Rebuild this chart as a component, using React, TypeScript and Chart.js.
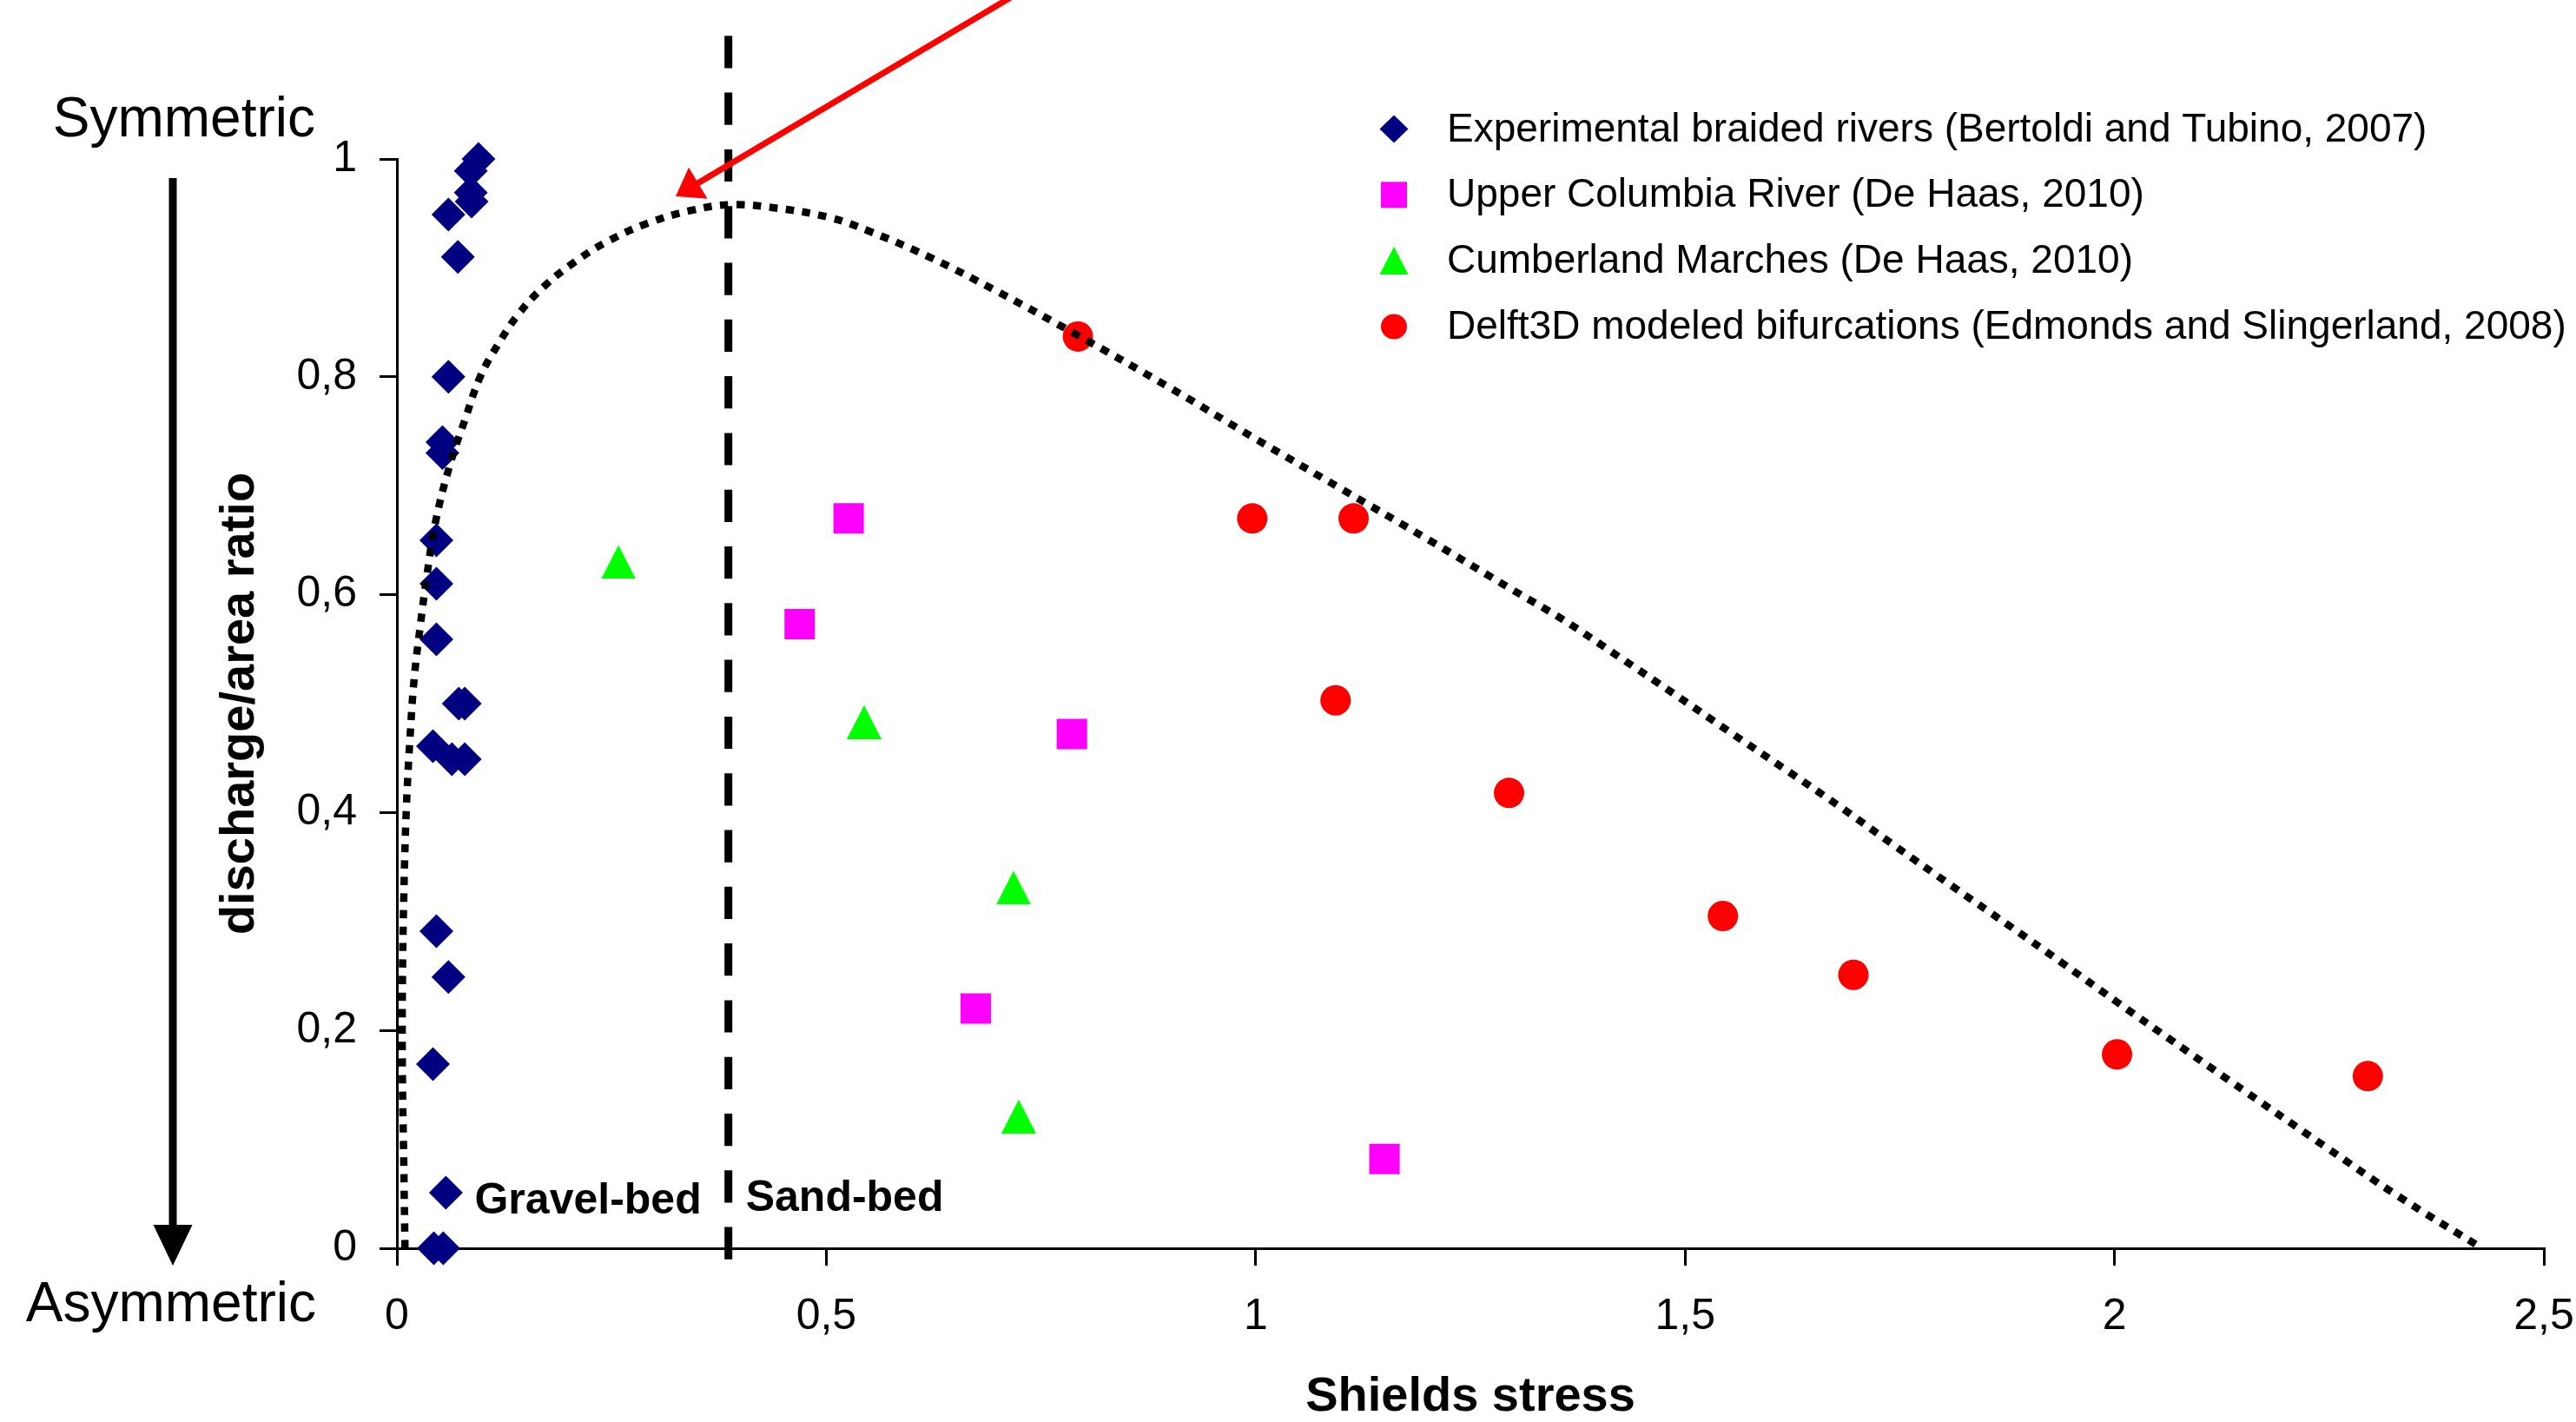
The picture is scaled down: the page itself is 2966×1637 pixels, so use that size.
import React, { useEffect, useRef } from "react";
import { Chart, registerables } from "chart.js";

Chart.register(...registerables);

const FONT = "'Liberation Sans', Arial, Helvetica, sans-serif";

// ---- axes ----
const X_TICKS = [0, 0.5, 1, 1.5, 2, 2.5];
const Y_TICKS = [0, 0.2, 0.4, 0.6, 0.8, 1];
const X_TITLE = "Shields stress";
const Y_TITLE = "discharge/area ratio";
const END_LABELS = ["Symmetric", "Asymmetric"];
const REGION_LABELS = ["Gravel-bed", "Sand-bed"];

// ---- series ----
const SERIES_LABELS = [
  "Experimental braided rivers (Bertoldi and Tubino, 2007)",
  "Upper Columbia River (De Haas, 2010)",
  "Cumberland Marches (De Haas, 2010)",
  "Delft3D modeled bifurcations (Edmonds and Slingerland, 2008)",
];
const SERIES_COLORS = ["#000080", "#FF00FF", "#00FF00", "#FF0000"];

const BRAIDED_X = [0.095, 0.086, 0.086, 0.087, 0.06, 0.071, 0.06, 0.053, 0.053, 0.046, 0.046, 0.046, 0.072, 0.079, 0.042, 0.064, 0.079, 0.046, 0.06, 0.042, 0.057, 0.043, 0.054];
const BRAIDED_Y = [1.0, 0.989, 0.969, 0.961, 0.949, 0.91, 0.8, 0.74, 0.73, 0.65, 0.61, 0.559, 0.5, 0.5, 0.461, 0.449, 0.449, 0.291, 0.249, 0.169, 0.051, 0.0, 0.0];

const COLUMBIA_X = [0.526, 0.469, 0.786, 0.674, 1.15];
const COLUMBIA_Y = [0.67, 0.573, 0.472, 0.22, 0.082];

const CUMBERLAND_X = [0.258, 0.544, 0.718, 0.724];
const CUMBERLAND_Y = [0.63, 0.483, 0.331, 0.121];

const DELFT_X = [0.793, 0.996, 1.114, 1.093, 1.295, 1.544, 1.696, 2.003, 2.295];
const DELFT_Y = [0.837, 0.67, 0.67, 0.503, 0.418, 0.305, 0.251, 0.178, 0.158];

// dotted envelope curve
const ENVELOPE_X = [0.0094, 0.008, 0.0064, 0.0064, 0.008, 0.011, 0.015, 0.02, 0.027, 0.035, 0.045, 0.062, 0.079, 0.097, 0.118, 0.141, 0.17, 0.208, 0.247, 0.292, 0.344, 0.389, 0.441, 0.505, 0.549, 0.62, 0.7, 0.793, 0.9, 1.0, 1.1, 1.2, 1.3, 1.358, 1.423, 1.487, 1.552, 1.616, 1.681, 1.745, 1.81, 1.874, 1.939, 2.003, 2.068, 2.132, 2.246, 2.33, 2.428];
const ENVELOPE_Y = [0.0, 0.078, 0.16, 0.241, 0.322, 0.404, 0.465, 0.522, 0.57, 0.618, 0.667, 0.72, 0.76, 0.8, 0.83, 0.857, 0.882, 0.906, 0.925, 0.941, 0.953, 0.958, 0.955, 0.946, 0.934, 0.91, 0.878, 0.838, 0.79, 0.743, 0.697, 0.651, 0.604, 0.577, 0.543, 0.509, 0.474, 0.44, 0.405, 0.369, 0.333, 0.298, 0.262, 0.226, 0.19, 0.155, 0.093, 0.048, 0.0];

// gravel/sand threshold (dashed line) and red pointer arrow
const THRESHOLD_X = 0.386;
const THRESHOLD_Y = [1.113, -0.011];
const ARROW_X = [0.744, 0.3246];
const ARROW_Y = [1.162, 0.9657];

const zip = (xs: number[], ys: number[]) => xs.map((x, i) => ({ x, y: ys[i] }));
const fmt = (v: number) => String(Math.round(v * 10) / 10).replace(".", ",");

function makeTriangle(w: number, h: number, color: string) {
  const c = document.createElement("canvas");
  c.width = w;
  c.height = h;
  const g = c.getContext("2d")!;
  g.fillStyle = color;
  g.beginPath();
  g.moveTo(w / 2, 0);
  g.lineTo(w, h);
  g.lineTo(0, h);
  g.closePath();
  g.fill();
  return c;
}

function drawMarker(ctx: CanvasRenderingContext2D, kind: number, x: number, y: number) {
  ctx.fillStyle = SERIES_COLORS[kind];
  ctx.beginPath();
  if (kind === 0) {
    ctx.moveTo(x, y - 16);
    ctx.lineTo(x + 16.5, y);
    ctx.lineTo(x, y + 16);
    ctx.lineTo(x - 16.5, y);
  } else if (kind === 1) {
    ctx.rect(x - 15, y - 15, 30, 30);
  } else if (kind === 2) {
    ctx.moveTo(x, y - 16);
    ctx.lineTo(x + 16.5, y + 16);
    ctx.lineTo(x - 16.5, y + 16);
  } else {
    ctx.ellipse(x, y, 15, 14.5, 0, 0, Math.PI * 2);
  }
  ctx.closePath();
  ctx.fill();
}

const decorPlugin = {
  id: "decor",
  afterDraw(chart: any) {
    const { ctx, chartArea } = chart;
    const xs = chart.scales.x;
    const ys = chart.scales.y;
    ctx.save();

    // red arrow pointing at the envelope peak
    const x0 = xs.getPixelForValue(ARROW_X[0]);
    const y0 = ys.getPixelForValue(ARROW_Y[0]);
    const x1 = xs.getPixelForValue(ARROW_X[1]);
    const y1 = ys.getPixelForValue(ARROW_Y[1]);
    const len = Math.hypot(x1 - x0, y1 - y0);
    const ux = (x1 - x0) / len;
    const uy = (y1 - y0) / len;
    const headLen = 30;
    const headHalf = 21;
    const bx = x1 - ux * headLen;
    const by = y1 - uy * headLen;
    ctx.strokeStyle = "#FF0000";
    ctx.lineWidth = 7;
    ctx.beginPath();
    ctx.moveTo(x0, y0);
    ctx.lineTo(bx + ux * 3, by + uy * 3);
    ctx.stroke();
    ctx.fillStyle = "#FF0000";
    ctx.beginPath();
    ctx.moveTo(x1, y1);
    ctx.lineTo(bx - uy * headHalf, by + ux * headHalf);
    ctx.lineTo(bx + uy * headHalf, by - ux * headHalf);
    ctx.closePath();
    ctx.fill();

    // vertical black arrow: Symmetric -> Asymmetric
    const ax = chartArea.left - 258;
    const aTop = chartArea.top + 22;
    const aBase = chartArea.bottom - 27;
    const aTip = chartArea.bottom + 20;
    ctx.strokeStyle = "#000";
    ctx.lineWidth = 9;
    ctx.beginPath();
    ctx.moveTo(ax, aTop);
    ctx.lineTo(ax, aBase + 2);
    ctx.stroke();
    ctx.fillStyle = "#000";
    ctx.beginPath();
    ctx.moveTo(ax - 22.5, aBase);
    ctx.lineTo(ax + 22.5, aBase);
    ctx.lineTo(ax, aTip);
    ctx.closePath();
    ctx.fill();

    ctx.font = `64px ${FONT}`;
    ctx.textAlign = "right";
    ctx.textBaseline = "alphabetic";
    ctx.fillText(END_LABELS[0], chartArea.left - 94, chartArea.top - 26);
    ctx.fillText(END_LABELS[1], chartArea.left - 93, chartArea.bottom + 84);

    // region labels
    const tx = xs.getPixelForValue(THRESHOLD_X);
    const y0px = ys.getPixelForValue(0);
    ctx.font = `bold 50px ${FONT}`;
    ctx.textAlign = "right";
    ctx.fillText(REGION_LABELS[0], tx - 31, y0px - 40);
    ctx.textAlign = "left";
    ctx.fillText(REGION_LABELS[1], tx + 20, y0px - 43);

    // legend inside plot
    ctx.font = `46px ${FONT}`;
    ctx.textAlign = "left";
    ctx.fillStyle = "#000";
    const legX = 1605;
    const textX = 1666;
    const base0 = 162.5;
    const step = 75.8;
    SERIES_LABELS.forEach((lab, i) => {
      const by2 = base0 + i * step;
      drawMarker(ctx, i, legX, by2 - 14);
      ctx.fillStyle = "#000";
      ctx.fillText(lab, textX, by2);
    });

    ctx.restore();
  },
};

export default function App() {
  const ref = useRef<HTMLCanvasElement>(null);

  useEffect(() => {
    const canvas = ref.current!;
    Chart.defaults.font.family = FONT;
    Chart.defaults.color = "#000";
    const tri = makeTriangle(40, 39, SERIES_COLORS[2]);

    const scatterBase = {
      pointBorderWidth: 0,
      showLine: false,
      clip: false as any,
    };

    const chart = new Chart(canvas, {
      type: "scatter",
      data: {
        datasets: [
          {
            label: "envelope",
            data: zip(ENVELOPE_X, ENVELOPE_Y),
            showLine: true,
            borderColor: "#000",
            borderWidth: 8.5,
            borderDash: [9.5, 9.5],
            pointRadius: 0,
            tension: 0.4,
            fill: false,
            order: -2,
            clip: false as any,
          },
          {
            label: "threshold",
            data: THRESHOLD_Y.map((y) => ({ x: THRESHOLD_X, y })),
            showLine: true,
            borderColor: "#000",
            borderWidth: 9,
            borderDash: [37.2, 28.1],
            pointRadius: 0,
            tension: 0,
            fill: false,
            order: -1,
            clip: false as any,
          },
          {
            ...scatterBase,
            label: SERIES_LABELS[0],
            data: zip(BRAIDED_X, BRAIDED_Y),
            pointStyle: "rectRot",
            pointRadius: 19.5,
            pointBackgroundColor: SERIES_COLORS[0],
            pointBorderColor: SERIES_COLORS[0],
            order: 1,
          },
          {
            ...scatterBase,
            label: SERIES_LABELS[1],
            data: zip(COLUMBIA_X, COLUMBIA_Y),
            pointStyle: "rect",
            pointRadius: 24.75,
            pointBackgroundColor: SERIES_COLORS[1],
            pointBorderColor: SERIES_COLORS[1],
            order: 2,
          },
          {
            ...scatterBase,
            label: SERIES_LABELS[2],
            data: zip(CUMBERLAND_X, CUMBERLAND_Y),
            pointStyle: tri as any,
            pointRadius: 20,
            pointBackgroundColor: SERIES_COLORS[2],
            pointBorderColor: SERIES_COLORS[2],
            order: 3,
          },
          {
            ...scatterBase,
            label: SERIES_LABELS[3],
            data: zip(DELFT_X, DELFT_Y),
            pointStyle: "circle",
            pointRadius: 17.5,
            pointBackgroundColor: SERIES_COLORS[3],
            pointBorderColor: SERIES_COLORS[3],
            order: 4,
          },
        ] as any,
      },
      options: {
        responsive: false,
        animation: false,
        devicePixelRatio: 1,
        events: [],
        layout: { padding: { top: 183, right: 37, bottom: 0, left: 0 } },
        plugins: {
          legend: { display: false },
          tooltip: { enabled: false },
        },
        scales: {
          x: {
            type: "linear",
            min: 0,
            max: 2.5,
            afterFit: (s: any) => {
              s.height = 200;
              s.paddingLeft = 0;
              s.paddingRight = 0;
            },
            afterBuildTicks: (s: any) => {
              s.ticks = X_TICKS.map((v) => ({ value: v }));
            },
            ticks: {
              font: { size: 50, lineHeight: 1, family: FONT },
              color: "#000",
              padding: 34,
              maxRotation: 0,
              autoSkip: false,
              callback: (v: any) => fmt(Number(v)),
            },
            grid: {
              drawOnChartArea: false,
              drawTicks: true,
              tickLength: 20,
              color: "#000",
              lineWidth: 3,
            },
            border: { display: true, color: "#000", width: 3 },
            title: {
              display: true,
              text: X_TITLE,
              color: "#000",
              font: { size: 56, weight: "bold", lineHeight: 1, family: FONT },
              padding: { top: 0, bottom: 0 },
            },
          },
          y: {
            type: "linear",
            min: 0,
            max: 1,
            afterFit: (s: any) => {
              s.width = 457;
              s.paddingTop = 0;
              s.paddingBottom = 0;
            },
            afterBuildTicks: (s: any) => {
              s.ticks = Y_TICKS.map((v) => ({ value: v }));
            },
            ticks: {
              font: { size: 50, lineHeight: 1, family: FONT },
              color: "#000",
              padding: 26,
              autoSkip: false,
              callback: (v: any) => fmt(Number(v)),
            },
            grid: {
              drawOnChartArea: false,
              drawTicks: true,
              tickLength: 20,
              color: "#000",
              lineWidth: 3,
            },
            border: { display: true, color: "#000", width: 3 },
            title: {
              display: true,
              text: Y_TITLE,
              color: "#000",
              font: { size: 56, weight: "bold", lineHeight: 1, family: FONT },
              padding: { top: 249, bottom: 0 },
            },
          },
        },
      } as any,
      plugins: [decorPlugin as any],
    });

    return () => chart.destroy();
  }, []);

  return (
    <div
      style={{
        position: "fixed",
        left: 0,
        top: 0,
        width: 2966,
        height: 1637,
        background: "#fff",
        overflow: "hidden",
      }}
    >
      <canvas ref={ref} width={2966} height={1637} style={{ display: "block", width: 2966, height: 1637 }} />
    </div>
  );
}
